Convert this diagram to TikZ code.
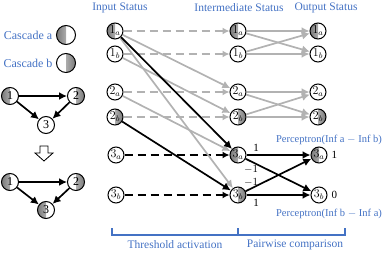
\documentclass[tikz,border=0pt]{standalone}
\usepackage{fontspec}
\setmainfont{Liberation Serif}
\usepackage{amsmath}
\usetikzlibrary{arrows.meta,positioning,calc}
\definecolor{CB}{HTML}{4472C4}
\tikzset{
  stat/.style={circle, draw, line width=1pt, minimum size=16pt, inner sep=0pt,
               font=\fontsize{12}{12}\selectfont},
  hA/.style={path picture={\fill[left color=gray!95!black, right color=gray!25]
      (path picture bounding box.south west) rectangle (path picture bounding box.north);}},
  hB/.style={path picture={\fill[left color=gray!25, right color=gray!95!black]
      (path picture bounding box.south) rectangle (path picture bounding box.north east);}},
  gnode/.style={stat, minimum size=17pt, font=\fontsize{12}{12}\selectfont},
  lbl/.style={text=CB, font=\fontsize{11.5}{12}\selectfont},
  wgt/.style={font=\fontsize{11}{11}\selectfont, inner sep=0pt},
  keep/.style={dash pattern=on 8pt off 5pt, line width=1.7pt, -{Latex[length=7pt,width=7pt]}},
  flow/.style={line width=1.7pt, -{Latex[length=8pt,width=8pt]}},
  gedge/.style={line width=1.7pt, -{Latex[length=8pt,width=8pt]}},
  brk/.style={draw=CB, line width=1.3pt}
}

\begin{document}
\begin{tikzpicture}[x=1pt, y=-1pt]
\useasboundingbox (0,0) rectangle (391,252);

% legend
\node[lbl, font=\fontsize{12}{12}\selectfont] (casa) at (28,35) {Cascade a};
\node[lbl, font=\fontsize{12}{12}\selectfont] (casb) at (28,63) {Cascade b};
\node[stat, hA, minimum size=19pt] (lega) at (66,35) {};
\node[stat, hB, minimum size=19pt] (legb) at (66,63) {};

% graph before / after
\node[gnode, hA] (g1) at (10,96) {1};
\node[gnode, hB] (g2) at (76,96) {2};
\node[gnode] (g3) at (46,125) {3};
\draw[gedge] (g1) -- (g2);
\draw[gedge] (g1) -- (g3);
\draw[gedge] (g2) -- (g3);

\draw[line width=0.8pt, fill=white] (40,146) -- (48,146) -- (48,153) -- (53,153)
  -- (44,161) -- (35,153) -- (40,153) -- cycle;

\node[gnode, hA] (h1) at (10,182) {1};
\node[gnode, hB] (h2) at (76,182) {2};
\node[gnode, hA] (h3) at (46,210) {3};
\draw[gedge] (h1) -- (h2);
\draw[gedge] (h1) -- (h3);
\draw[gedge] (h2) -- (h3);

% column titles
\node[lbl] (tin) at (120,8) {Input Status};
\node[lbl] (tmid) at (239,8) {Intermediate Status};
\node[lbl] (tout) at (326,8) {Output Status};

% input status
\node[stat, hA] (i1a) at (115,31) {$1_a$};
\node[stat] (i1b) at (115,54) {$1_b$};
\node[stat] (i2a) at (115,92) {$2_a$};
\node[stat, hB] (i2b) at (115,117) {$2_b$};
\node[stat] (i3a) at (116,155) {$3_a$};
\node[stat] (i3b) at (116,195) {$3_b$};

% intermediate status
\node[stat, hA] (m1a) at (238,31) {$1_a$};
\node[stat] (m1b) at (238,54) {$1_b$};
\node[stat] (m2a) at (238,92) {$2_a$};
\node[stat, hB] (m2b) at (238,117) {$2_b$};
\node[stat, hA] (m3a) at (238,155) {$3_a$};
\node[stat, hB] (m3b) at (238,195) {$3_b$};

% output status
\node[stat, hA] (o1a) at (318,31) {$1_a$};
\node[stat] (o1b) at (318,54) {$1_b$};
\node[stat] (o2a) at (318,92) {$2_a$};
\node[stat, hB] (o2b) at (318,117) {$2_b$};
\node[stat, hA] (o3a) at (319,155) {$3_a$};
\node[stat] (o3b) at (319,195) {$3_b$};

% threshold activation
\foreach \n in {1a,1b,2a,2b}
  \draw[keep, gray!60] (i\n) -- (m\n);
\foreach \n in {3a,3b}
  \draw[keep] (i\n) -- (m\n);
\draw[flow, gray!60] (i1a) -- (m2a);
\draw[flow, gray!60] (i1b) -- (m2b);
\draw[flow, gray!60] (i1a) -- (m3b);
\draw[flow, gray!60] (i2a) -- (m3a);
\draw[flow] (i1a) -- (m3a);
\draw[flow] (i2b) -- (m3b);

% pairwise comparison
\foreach \r in {1,2} {
  \draw[flow, gray!60] (m\r a) -- (o\r a);
  \draw[flow, gray!60] (m\r a) -- (o\r b);
  \draw[flow, gray!60] (m\r b) -- (o\r a);
  \draw[flow, gray!60] (m\r b) -- (o\r b);
}
\draw[flow] (m3a) -- (o3a);
\draw[flow] (m3a) -- (o3b);
\draw[flow] (m3b) -- (o3a);
\draw[flow] (m3b) -- (o3b);

\node[wgt] (w1) at (256,148) {1};
\node[wgt] (w2) at (251,169) {$-1$};
\node[wgt] (w3) at (251,182) {$-1$};
\node[wgt] (w4) at (256,203) {1};

\node[wgt, right=4pt of o3a] (r1) {1};
\node[wgt, right=4pt of o3b] (r0) {0};
\node[lbl, font=\fontsize{10.5}{11}\selectfont] (pa) at (329,140) {Perceptron(Inf a $-$ Inf b)};
\node[lbl, font=\fontsize{10.5}{11}\selectfont] (pb) at (329,214) {Perceptron(Inf b $-$ Inf a)};

% brackets
\draw[brk] (112,228) -- (112,235) -- (345,235) -- (345,228);
\draw[brk] (238,235) -- (238,228);
\node[lbl] (bth) at (175,245) {Threshold activation};
\node[lbl] (bpw) at (295,245) {Pairwise comparison};
\end{tikzpicture}
\end{document}
